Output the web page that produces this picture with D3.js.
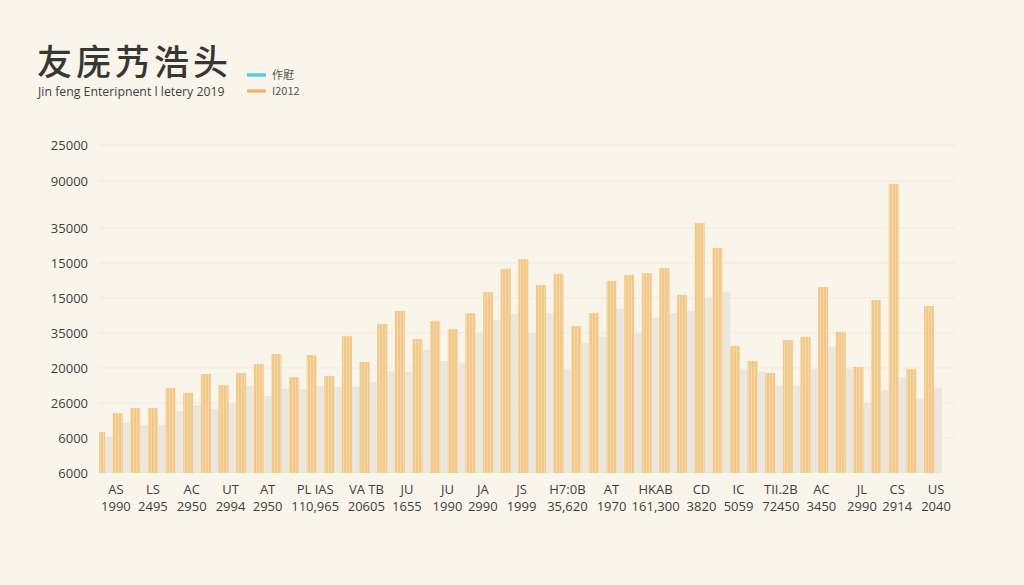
<!DOCTYPE html>
<html>
<head>
<meta charset="utf-8">
<script src="https://cdn.jsdelivr.net/npm/d3@7"></script>
<style>
  html, body { margin: 0; padding: 0; background: #f9f5eb; }
  svg { display: block; font-family: "Noto Sans", "Open Sans", sans-serif; }
</style>
</head>
<body>
<svg id="chart" width="1024" height="585"></svg>
<script>
// ---- data ----
const titleText = "友庑艿浩头";
const subtitleText = "Jin feng Enteripnent l letery 2019";
const legendLabels = ["作屘", "I2012"];
const legendColors = ["#5bc8dc", "#f5b56a"];

const orangeValues = [1.17, 1.71, 1.86, 1.86, 2.43, 2.29, 2.83, 2.51, 2.86, 3.11, 3.4, 2.74,
  3.37, 2.77, 3.91, 3.17, 4.26, 4.63, 3.83, 4.34, 4.11, 4.57, 5.17, 5.83,
  6.11, 5.37, 5.69, 4.2, 4.57, 5.49, 5.66, 5.71, 5.86, 5.09, 7.14, 6.43,
  3.63, 3.2, 2.86, 3.8, 3.89, 5.31, 4.03, 3.03, 4.94, 8.26, 2.97, 4.77];
const grayValues = [1.03, 1.43, 1.37, 1.37, 1.77, 1.94, 1.83, 2.0, 2.49, 2.2, 2.4, 2.4,
  2.49, 2.46, 2.46, 2.6, 2.91, 2.89, 3.51, 3.2, 3.14, 4.0, 4.37, 4.54,
  4.0, 4.57, 2.97, 3.71, 3.89, 4.69, 4.0, 4.43, 4.57, 4.63, 5.0, 5.17,
  2.97, 2.91, 2.49, 2.49, 2.97, 3.6, 2.97, 2.0, 2.37, 2.74, 2.11, 2.43];

const yTickValues = [0, 1, 2, 3, 4, 5, 6, 7, 8.34, 9.37];
const yTickLabels = ["6000", "6000", "26000", "20000", "35000", "15000", "15000", "35000", "90000", "25000"];

const xCodes = ["AS", "LS", "AC", "UT", "AT", "PL IAS", "VA TB", "JU", "JU", "JA", "JS",
  "H7:0B", "AT", "HKAB", "CD", "IC", "TII.2B", "AC", "JL", "CS", "US"];
const xNumbers = ["1990", "2495", "2950", "2994", "2950", "110,965", "20605", "1655", "1990", "2990", "1999",
  "35,620", "1970", "161,300", "3820", "5059", "72450", "3450", "2990", "2914", "2040"];
// bar slot (fractional index) under which each category label sits
const xLabelSlots = [0.9, 3.0, 5.2, 7.4, 9.5, 12.2, 15.1, 17.4, 19.7, 21.7, 23.9,
  26.5, 29.0, 31.5, 34.1, 36.2, 38.6, 40.9, 43.2, 45.2, 47.4];

// ---- layout ----
const svg = d3.select("#chart");
const W = 1024, H = 585;
const plotLeft = 99, plotRight = 955, plotTop = 145, plotBottom = 473;

svg.append("rect").attr("width", W).attr("height", H).attr("fill", "#f9f5eb");

const y = d3.scaleLinear().domain([0, 9.37]).range([plotBottom, plotTop]);
const idx = d3.range(orangeValues.length);
const x = d3.scaleBand().domain(idx).range([91.2, 937.8]).paddingInner(0.43).paddingOuter(0.215);
const bw = x.bandwidth();
const slotX = d3.scaleLinear().domain([0, idx.length - 1])
  .range([x(0) + bw / 2, x(idx.length - 1) + bw / 2]);

const defs = svg.append("defs");
const pat = defs.append("pattern").attr("id", "stripes")
  .attr("patternUnits", "userSpaceOnUse").attr("width", 3).attr("height", 10);
pat.append("rect").attr("width", 3).attr("height", 10).attr("fill", "#f2c98a");
pat.append("rect").attr("x", 1).attr("width", 0.8).attr("height", 10).attr("fill", "#f7dcae");

defs.append("clipPath").attr("id", "plotclip").append("rect")
  .attr("x", plotLeft).attr("y", 0).attr("width", plotRight - plotLeft).attr("height", plotBottom);

// gridlines
svg.append("g").selectAll("line").data(yTickValues.slice(1)).join("line")
  .attr("x1", plotLeft).attr("x2", plotRight)
  .attr("y1", d => y(d)).attr("y2", d => y(d))
  .attr("stroke", "#f0eadd").attr("stroke-width", 1);

// y-axis labels via axis
const yAxis = d3.axisLeft(y).tickValues(yTickValues)
  .tickFormat((d, i) => yTickLabels[i]).tickSize(0).tickPadding(0);
const yg = svg.append("g").attr("transform", "translate(88,0)").call(yAxis);
yg.select(".domain").remove();
yg.selectAll("text").attr("font-size", 13).attr("fill", "#3f3f3f")
  .attr("font-family", "'Open Sans', 'Noto Sans', sans-serif");

const bars = svg.append("g").attr("clip-path", "url(#plotclip)");

// gray background bars
bars.selectAll("rect.gray").data(grayValues).join("rect").attr("class", "gray")
  .attr("x", (d, i) => x(i) + bw / 2)
  .attr("width", 13)
  .attr("y", d => y(d))
  .attr("height", d => plotBottom - y(d))
  .attr("fill", "#ebe7dd");

// orange striped bars
bars.selectAll("rect.orange").data(orangeValues).join("rect").attr("class", "orange")
  .attr("x", (d, i) => x(i))
  .attr("width", bw)
  .attr("y", d => y(d))
  .attr("height", d => plotBottom - y(d))
  .attr("fill", "url(#stripes)");

// x labels
const xg = svg.append("g").attr("font-family", "'Open Sans', 'Noto Sans', sans-serif")
  .attr("font-size", 13).attr("fill", "#3f3f3f").attr("text-anchor", "middle");
xg.selectAll("text.code").data(xCodes).join("text").attr("class", "code")
  .attr("x", (d, i) => slotX(xLabelSlots[i])).attr("y", 494).text(d => d);
xg.selectAll("text.num").data(xNumbers).join("text").attr("class", "num")
  .attr("x", (d, i) => slotX(xLabelSlots[i])).attr("y", 511).text(d => d);

// title
svg.append("text").attr("x", 37).attr("y", 75)
  .attr("font-family", "'Noto Sans CJK SC', sans-serif").attr("font-weight", 500)
  .attr("font-size", 35).attr("fill", "#363636").attr("letter-spacing", 4).text(titleText);
svg.append("text").attr("x", 38).attr("y", 96)
  .attr("font-family", "'Open Sans', 'Noto Sans', sans-serif")
  .attr("font-size", 12.3).attr("fill", "#3f3f3f").text(subtitleText);

// legend
const lg = svg.append("g");
legendLabels.forEach((lab, i) => {
  const ly = 75 + i * 16;
  lg.append("line").attr("x1", 247).attr("x2", 266).attr("y1", ly).attr("y2", ly)
    .attr("stroke", legendColors[i]).attr("stroke-width", 3.5);
  lg.append("text").attr("x", 272).attr("y", ly + 4)
    .attr("font-family", "'Noto Sans CJK SC', 'Noto Sans', sans-serif")
    .attr("font-size", 11).attr("fill", "#555").text(lab);
});
</script>
</body>
</html>
